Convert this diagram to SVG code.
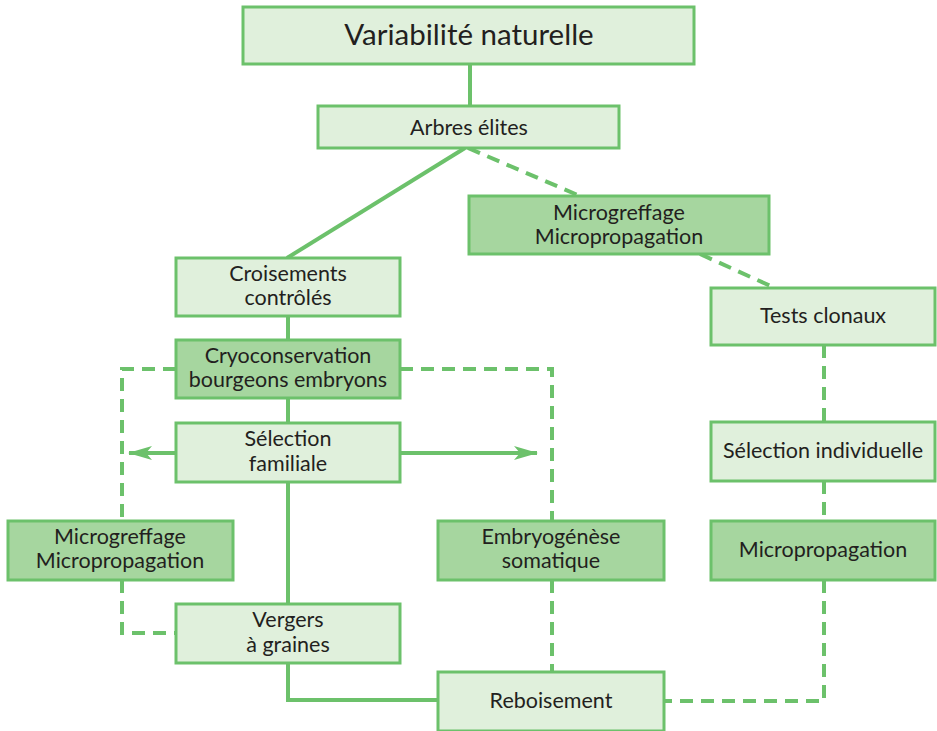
<svg xmlns="http://www.w3.org/2000/svg" width="937" height="731" viewBox="0 0 937 731">
  <style>
    .light { fill: #e0f0dc; stroke: #6cc16b; stroke-width: 3; }
    .dark { fill: #a6d69f; stroke: #6cc16b; stroke-width: 3; }
    text { font-family: Lato, "Open Sans", "Liberation Sans", sans-serif; fill: #231f20; font-size: 21.5px; text-anchor: middle; }
    .title { font-size: 29.5px; }
    .solid { fill: none; stroke: #6cc16b; stroke-width: 4; }
    .dash { fill: none; stroke: #6cc16b; stroke-width: 4; stroke-dasharray: 13 8; }
  </style>
  <defs>
    <marker id="arrow" viewBox="0 0 24 14" refX="23" refY="7" markerWidth="6" markerHeight="3.5" markerUnits="strokeWidth" orient="auto">
      <path d="M0,0 L24,7 L0,14 L6,7 Z" fill="#6cc16b"/>
    </marker>
  </defs>

  <rect width="937" height="731" fill="#ffffff"/>

  <g id="connectors">
    <line class="solid" x1="470" y1="64" x2="470" y2="106"/>
    <line class="solid" x1="465" y1="148" x2="287" y2="258"/>
    <line class="dash" x1="468" y1="148" x2="580" y2="196"/>
    <line class="dash" x1="700" y1="254" x2="775" y2="288"/>
    <polyline class="solid" points="288,316 288,340"/>
    <polyline class="solid" points="288,398 288,423"/>
    <polyline class="solid" points="288,482 288,604"/>
    <polyline class="solid" points="288,663 288,700 438,700"/>
    <line class="solid" x1="176" y1="453" x2="129" y2="453" marker-end="url(#arrow)"/>
    <line class="solid" x1="400" y1="453" x2="537" y2="453" marker-end="url(#arrow)"/>
    <polyline class="dash" points="176,369 122,369 122,521"/>
    <polyline class="dash" points="122,580 122,633 176,633"/>
    <polyline class="dash" points="400,369 552,369 552,521"/>
    <polyline class="dash" points="552,580 552,672"/>
    <polyline class="dash" points="824,345 824,422"/>
    <polyline class="dash" points="824,481 824,521"/>
    <polyline class="dash" points="824,580 824,701 664,701"/>
  </g>

  <g id="variabilite">
    <rect class="light" x="243" y="7" width="451" height="57"/>
    <text class="title" x="469" y="45">Variabilité naturelle</text>
  </g>
  <g id="arbres-elites">
    <rect class="light" x="318" y="106" width="301" height="42"/>
    <text x="469" y="135">Arbres élites</text>
  </g>
  <g id="microgreffage-haut">
    <rect class="dark" x="469" y="196" width="300" height="58"/>
    <text x="619" y="220">Microgreffage</text>
    <text x="619" y="244">Micropropagation</text>
  </g>
  <g id="croisements">
    <rect class="light" x="176" y="258" width="224" height="58"/>
    <text x="288" y="281">Croisements</text>
    <text x="288" y="305">contrôlés</text>
  </g>
  <g id="tests-clonaux">
    <rect class="light" x="711" y="288" width="224" height="57"/>
    <text x="823" y="323">Tests clonaux</text>
  </g>
  <g id="cryoconservation">
    <rect class="dark" x="176" y="340" width="224" height="58"/>
    <text x="288" y="363">Cryoconservation</text>
    <text x="288" y="387">bourgeons embryons</text>
  </g>
  <g id="selection-familiale">
    <rect class="light" x="176" y="423" width="224" height="59"/>
    <text x="288" y="446">Sélection</text>
    <text x="288" y="471">familiale</text>
  </g>
  <g id="selection-individuelle">
    <rect class="light" x="711" y="422" width="224" height="59"/>
    <text x="823" y="458">Sélection individuelle</text>
  </g>
  <g id="microgreffage-gauche">
    <rect class="dark" x="8" y="521" width="225" height="59"/>
    <text x="120" y="544">Microgreffage</text>
    <text x="120" y="568">Micropropagation</text>
  </g>
  <g id="embryogenese">
    <rect class="dark" x="438" y="521" width="226" height="59"/>
    <text x="551" y="544">Embryogénèse</text>
    <text x="551" y="568">somatique</text>
  </g>
  <g id="micropropagation">
    <rect class="dark" x="711" y="521" width="224" height="59"/>
    <text x="823" y="557">Micropropagation</text>
  </g>
  <g id="vergers">
    <rect class="light" x="176" y="604" width="224" height="59"/>
    <text x="288" y="627">Vergers</text>
    <text x="288" y="652">à graines</text>
  </g>
  <g id="reboisement">
    <rect class="light" x="438" y="672" width="226" height="59"/>
    <text x="551" y="708">Reboisement</text>
  </g>
</svg>
